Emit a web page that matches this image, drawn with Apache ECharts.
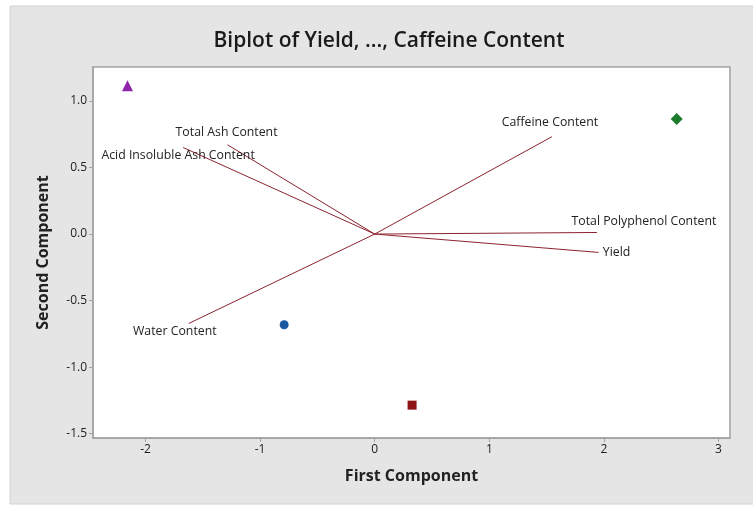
<!DOCTYPE html>
<html>
<head>
<meta charset="utf-8">
<script src="https://cdn.jsdelivr.net/npm/echarts@6/dist/echarts.min.js"></script>
<style>
  html, body { margin: 0; padding: 0; background: #ffffff; }
  #chart { width: 753px; height: 506px; }
</style>
</head>
<body>
<div id="chart"></div>
<script>
// Observation scores on the first two principal components
const scoreX = [-2.157, 2.635, -0.790, 0.326];
const scoreY = [1.115, 0.865, -0.682, -1.286];

// Variable loadings (vector tips, drawn from the origin)
const varNames = ['Caffeine Content', 'Total Polyphenol Content', 'Yield',
                  'Total Ash Content', 'Acid Insoluble Ash Content', 'Water Content'];
const loadX = [1.546, 1.939, 1.953, -1.284, -1.672, -1.622];
const loadY = [0.732, 0.012, -0.138, 0.671, 0.651, -0.672];

// Axis tick labels
const xTicks = [-2, -1, 0, 1, 2, 3];
const yTicks = [-1.5, -1.0, -0.5, 0.0, 0.5, 1.0];

const FONT = '"Open Sans", "Noto Sans", sans-serif';
const LINE_COLOR = '#8c2330';

// Symbol per observation
const scoreStyle = [
  { symbol: 'triangle', size: 11, color: '#8e24aa' },
  { symbol: 'diamond', size: 12, color: '#1e7b2e' },
  { symbol: 'circle', size: 9, color: '#1b5aa3' },
  { symbol: 'rect', size: 9, color: '#8e1418' }
];

// Label placement relative to each vector tip (pixels)
const labelOffset = [[-2, -14], [47, -11], [18, 0], [-1, -12], [-5, 8], [-14, 8]];

const series = [];
varNames.forEach(function (name, i) {
  series.push({
    type: 'line',
    name: name,
    silent: true,
    symbol: 'circle',
    symbolSize: 0,
    showSymbol: true,
    lineStyle: { color: LINE_COLOR, width: 1 },
    itemStyle: { color: LINE_COLOR },
    data: [
      [0, 0],
      {
        value: [loadX[i], loadY[i]],
        label: {
          show: true,
          formatter: name,
          position: 'inside',
          align: 'center',
          verticalAlign: 'middle',
          offset: labelOffset[i],
          color: '#222',
          fontSize: 12.3,
          fontFamily: FONT
        }
      }
    ],
    z: 2
  });
});
scoreX.forEach(function (x, i) {
  series.push({
    type: 'scatter',
    silent: true,
    symbol: scoreStyle[i].symbol,
    symbolSize: scoreStyle[i].size,
    itemStyle: { color: scoreStyle[i].color, opacity: 1 },
    data: [[x, scoreY[i]]],
    z: 3
  });
});

const chart = echarts.init(document.getElementById('chart'), null, { renderer: 'canvas' });
chart.setOption({
  animation: false,
  backgroundColor: '#ffffff',
  graphic: [{
    type: 'rect',
    shape: { x: 10, y: 6, width: 760, height: 498 },
    style: { fill: '#e5e5e5', stroke: '#d2d2d2', lineWidth: 1 },
    z: -10,
    silent: true
  }],
  title: {
    text: 'Biplot of Yield, ..., Caffeine Content',
    left: 384,
    top: 26,
    textAlign: 'center',
    textStyle: { fontFamily: FONT, fontSize: 21, fontWeight: 600, color: '#1a1a1a' }
  },
  grid: {
    left: 93, top: 67, right: 23, bottom: 68,
    show: true,
    backgroundColor: '#ffffff',
    borderColor: '#a3a3a3',
    borderWidth: 1.5
  },
  xAxis: {
    type: 'value',
    min: -2.458,
    max: 3.10,
    name: 'First Component',
    nameLocation: 'middle',
    nameGap: 30,
    nameTextStyle: { fontFamily: FONT, fontSize: 16, fontWeight: 'bold', color: '#222' },
    axisLine: { show: true, onZero: false, lineStyle: { color: '#a3a3a3', width: 1.5 } },
    axisTick: { show: true, length: 4, customValues: xTicks, lineStyle: { color: '#a3a3a3' } },
    axisLabel: {
      customValues: xTicks,
      color: '#222', fontSize: 12, fontFamily: FONT, margin: 6,
      formatter: function (v) { return String(Math.round(v)); }
    },
    splitLine: { show: false }
  },
  yAxis: {
    type: 'value',
    min: -1.533,
    max: 1.256,
    name: 'Second Component',
    nameLocation: 'middle',
    nameGap: 42,
    nameTextStyle: { fontFamily: FONT, fontSize: 16, fontWeight: 'bold', color: '#222' },
    axisLine: { show: true, onZero: false, lineStyle: { color: '#a3a3a3', width: 1.5 } },
    axisTick: { show: true, length: 4, customValues: yTicks, lineStyle: { color: '#a3a3a3' } },
    axisLabel: {
      customValues: yTicks,
      color: '#222', fontSize: 12, fontFamily: FONT, margin: 6,
      formatter: function (v) { return v.toFixed(1); }
    },
    splitLine: { show: false }
  },
  series: series
});
</script>
</body>
</html>
